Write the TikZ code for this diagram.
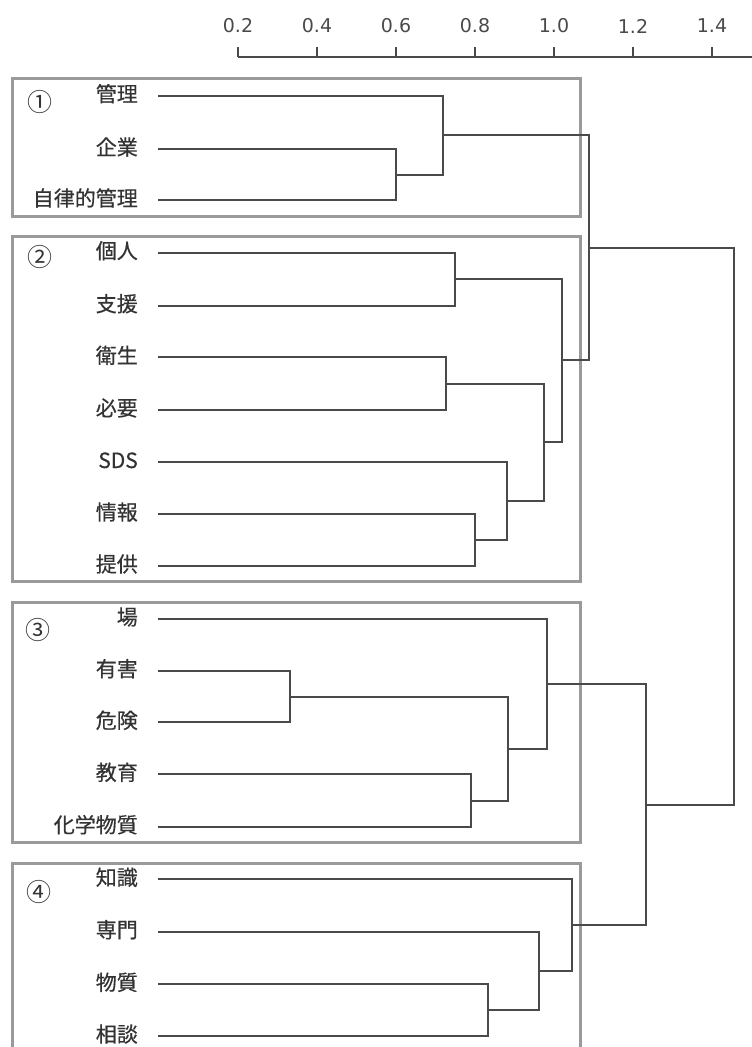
\documentclass[tikz,border=0pt]{standalone}
\usepackage{fontspec}
\newfontfamily\cjk[BoldFont={Noto Sans CJK JP}, BoldFeatures={FakeBold=0.5}]{Noto Sans CJK JP}
\newfontfamily\axisfont{DejaVu Sans}
\definecolor{boxgray}{HTML}{9A9A9C}
\definecolor{linegray}{HTML}{4A4A4C}
\definecolor{textgray}{HTML}{333333}
\tikzset{
  grpbox/.style={draw=boxgray, line width=3pt},
  dend/.style={draw=linegray, line width=2pt},
  axisline/.style={draw=linegray, line width=2pt},
  leaflabel/.style={anchor=east, inner sep=0pt, text=textgray, font=\cjk\bfseries\fontsize{21}{21}\selectfont},
  grpnum/.style={inner sep=0pt, text=textgray, font=\cjk\fontsize{25}{25}\selectfont},
  ticklabel/.style={inner sep=0pt, text=linegray, font=\axisfont\fontsize{19}{19}\selectfont}
}
\begin{document}
\begin{tikzpicture}[x=1pt,y=-1pt]
\useasboundingbox (0,0) rectangle (752,1047);
% axis
\coordinate (ax0) at (238,57);
\coordinate (ax1) at (752,57);
\draw[axisline] (ax0) -- (ax1);
\foreach \v [count=\k from 0] in {0.2,0.4,0.6,0.8,1.0,1.2,1.4} {
  \coordinate (tk\k) at (238+79*\k,57);
  \draw[axisline] (tk\k) -- ++(0,-10);
  \node[ticklabel] (tl\k) at (238+79*\k,26) {\v};
}
% group boxes
\draw[grpbox] (12,78) rectangle (580,216);
\draw[grpbox] (12,236) rectangle (580,581.5);
\draw[grpbox] (12,602) rectangle (580,842);
\draw[grpbox] (12,1050) -- (12,863) -- (580,863) -- (580,1050);
\node[grpnum] (g1) at (40,102) {①};
\node[grpnum] (g2) at (40,257) {②};
\node[grpnum] (g3) at (38,630) {③};
\node[grpnum] (g4) at (39,892) {④};
% leaves
\foreach \name/\y/\txt in {
  t1/95.7/管理, t2/149/企業, t3/200/自律的管理,
  t4/252.7/個人, t5/305.7/支援, t6/357.3/衛生, t7/410/必要, t8/462.3/SDS, t9/514/情報, t10/566/提供,
  t11/619/場, t12/670.7/有害, t13/722.3/危険, t14/774.3/教育, t15/826.7/化学物質,
  t16/879.3/知識, t17/931.7/専門, t18/984.3/物質, t19/1036/相談} {
  \node[leaflabel] (lab-\name) at (138,\y-2) {\txt};
  \coordinate (\name) at (158,\y);
}
% merge points
\coordinate (a) at (396,174.5);
\coordinate (b) at (443,135);
\coordinate (c) at (455,279);
\coordinate (d) at (446,384);
\coordinate (e) at (474.5,540);
\coordinate (f) at (507,501);
\coordinate (g) at (544,442);
\coordinate (h) at (562,360);
\coordinate (i) at (589,248);
\coordinate (j) at (290,696.5);
\coordinate (k) at (471,800.5);
\coordinate (l) at (507.7,748.5);
\coordinate (m) at (547.3,684);
\coordinate (n) at (487.7,1010);
\coordinate (o) at (539,971);
\coordinate (p) at (572.3,925);
\coordinate (q) at (646,804.5);
\coordinate (r) at (734,526);
% dendrogram
\draw[dend] (t2) -| (a) |- (t3);
\draw[dend] (t1) -| (b) |- (a);
\draw[dend] (t4) -| (c) |- (t5);
\draw[dend] (t6) -| (d) |- (t7);
\draw[dend] (t9) -| (e) |- (t10);
\draw[dend] (t8) -| (f) |- (e);
\draw[dend] (d) -| (g) |- (f);
\draw[dend] (c) -| (h) |- (g);
\draw[dend] (b) -| (i) |- (h);
\draw[dend] (t12) -| (j) |- (t13);
\draw[dend] (t14) -| (k) |- (t15);
\draw[dend] (j) -| (l) |- (k);
\draw[dend] (t11) -| (m) |- (l);
\draw[dend] (t18) -| (n) |- (t19);
\draw[dend] (t17) -| (o) |- (n);
\draw[dend] (t16) -| (p) |- (o);
\draw[dend] (m) -| (q) |- (p);
\draw[dend] (i) -| (r) |- (q);
\end{tikzpicture}
\end{document}
